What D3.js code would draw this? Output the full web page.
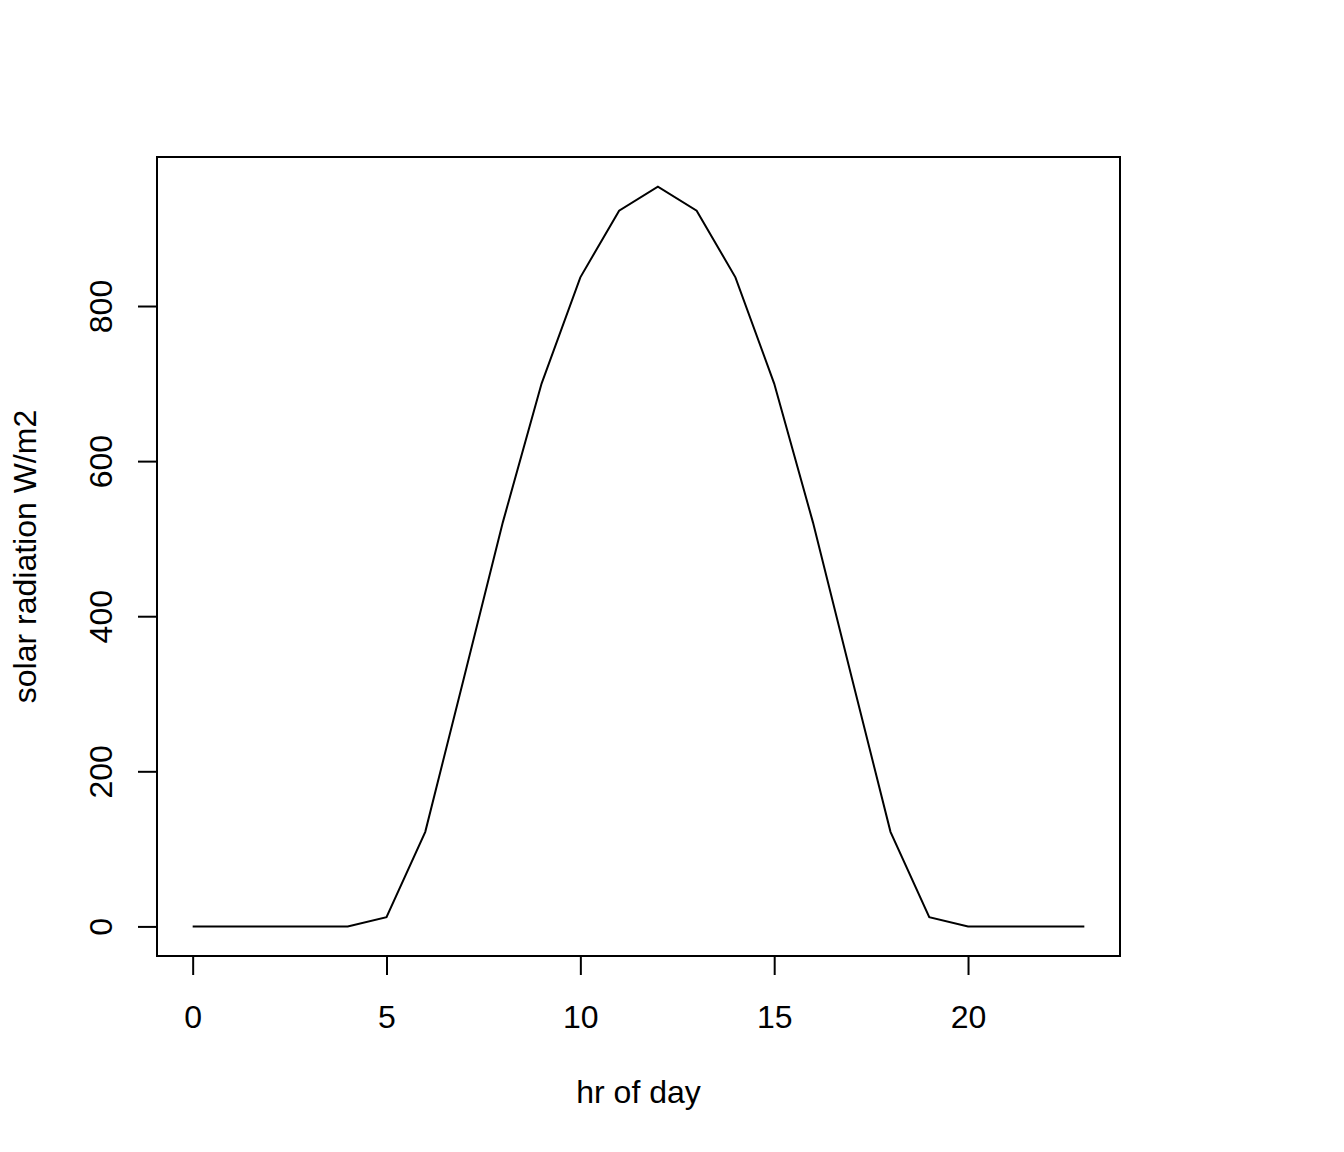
<!DOCTYPE html>
<html>
<head>
<meta charset="utf-8">
<script src="https://cdn.jsdelivr.net/npm/d3@7"></script>
<style>
  html, body { margin: 0; padding: 0; background: #fff; }
  svg text { font-family: "Liberation Sans", Arial, Helvetica, sans-serif; fill: #000; }
</style>
</head>
<body>
<svg id="chart" width="1344" height="1152"></svg>
<script>
// Data
const hours = [0,1,2,3,4,5,6,7,8,9,10,11,12,13,14,15,16,17,18,19,20,21,22,23];
const radiation = [0,0,0,0,0,12,122,321,521,700,837,923,954,923,837,700,521,321,122,12,0,0,0,0];
const xTicks = [0,5,10,15,20];
const yTicks = [0,200,400,600,800];
const xLabel = "hr of day";
const yLabel = "solar radiation W/m2";

const svg = d3.select("#chart");
const W = 1344, H = 1152;
const box = {left: 157, right: 1120, top: 157, bottom: 956};
const fontSize = 32;

// R-style 4% padding on the data range
const xExt = d3.extent(hours), yExt = d3.extent(radiation);
const xPad = (xExt[1] - xExt[0]) * 0.04, yPad = (yExt[1] - yExt[0]) * 0.04;
const x = d3.scaleLinear().domain([xExt[0] - xPad, xExt[1] + xPad]).range([box.left, box.right]);
const y = d3.scaleLinear().domain([yExt[0] - yPad, yExt[1] + yPad]).range([box.bottom, box.top]);

svg.append("rect").attr("width", W).attr("height", H).attr("fill", "#fff");

// data line
const line = d3.line().x((d, i) => x(hours[i])).y(d => y(d));
svg.append("path")
  .datum(radiation)
  .attr("d", line)
  .attr("fill", "none")
  .attr("stroke", "#000")
  .attr("stroke-width", 2)
  .attr("stroke-linejoin", "miter");

// plot box
svg.append("rect")
  .attr("x", box.left).attr("y", box.top)
  .attr("width", box.right - box.left).attr("height", box.bottom - box.top)
  .attr("fill", "none").attr("stroke", "#000").attr("stroke-width", 2);

const tickLen = 19;

// x axis
const xAxis = d3.axisBottom(x).tickValues(xTicks).tickSize(tickLen).tickPadding(0).tickFormat(d3.format("d"));
const gx = svg.append("g").attr("transform", `translate(0,${box.bottom})`).call(xAxis);
gx.select(".domain").attr("d", `M${x(xTicks[0])},0H${x(xTicks[xTicks.length-1])}`).attr("stroke", "#000").attr("stroke-width", 2);
gx.selectAll(".tick line").attr("stroke", "#000").attr("stroke-width", 2);
gx.selectAll(".tick text")
  .attr("y", 1028 - box.bottom).attr("dy", null)
  .attr("font-size", fontSize).attr("font-family", null).attr("fill", "#000");

// y axis
const yAxis = d3.axisLeft(y).tickValues(yTicks).tickSize(tickLen).tickPadding(0).tickFormat(d3.format("d"));
const gy = svg.append("g").attr("transform", `translate(${box.left},0)`).call(yAxis);
gy.select(".domain").attr("d", `M0,${y(yTicks[0])}V${y(yTicks[yTicks.length-1])}`).attr("stroke", "#000").attr("stroke-width", 2);
gy.selectAll(".tick line").attr("stroke", "#000").attr("stroke-width", 2);
gy.selectAll(".tick text")
  .attr("x", null).attr("dy", null)
  .attr("text-anchor", "middle")
  .attr("transform", `translate(${112 - box.left},0) rotate(-90)`)
  .attr("font-size", fontSize).attr("font-family", null).attr("fill", "#000");

// axis titles
svg.append("text")
  .attr("x", (box.left + box.right) / 2).attr("y", 1103)
  .attr("text-anchor", "middle").attr("font-size", fontSize)
  .text(xLabel);
svg.append("text")
  .attr("transform", `translate(36,${(box.top + box.bottom) / 2}) rotate(-90)`)
  .attr("text-anchor", "middle").attr("font-size", fontSize)
  .text(yLabel);
</script>
</body>
</html>
